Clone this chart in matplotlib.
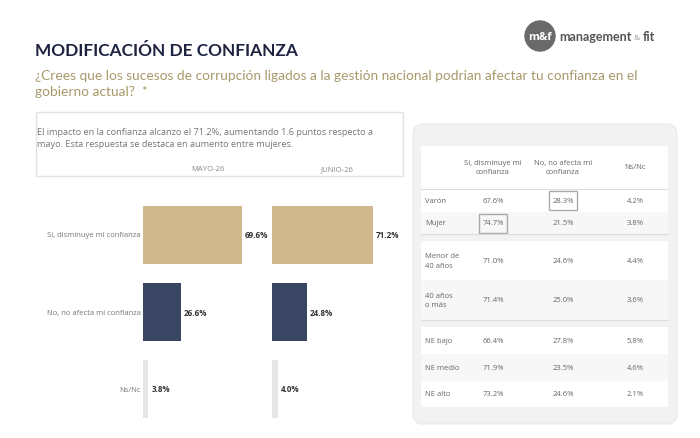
import matplotlib
matplotlib.use("Agg")
import matplotlib.pyplot as plt
from matplotlib.patches import Rectangle, FancyBboxPatch, Circle

plt.rcParams['font.family'] = ['Open Sans', 'DejaVu Sans']

# datos
categorias = ["Si, disminuye mi confianza", "No, no afecta mi confianza", "Ns/Nc"]
mayo_26 = [69.6, 26.6, 3.8]
junio_26 = [71.2, 24.8, 4.0]
periodos = ["MAYO-26", "JUNIO-26"]

cols_tabla = ["Si, disminuye mi\nconfianza", "No, no afecta mi\nconfianza", "Ns/Nc"]
filas_tabla = ["Varón", "Mujer", "Menor de\n40 años", "40 años\no más", "NE bajo", "NE medio", "NE alto"]
si_tabla = [67.6, 74.7, 71.0, 71.4, 66.4, 71.9, 73.2]
no_tabla = [28.3, 21.5, 24.6, 25.0, 27.8, 23.5, 24.6]
nsnc_tabla = [4.2, 3.8, 4.4, 3.6, 5.8, 4.6, 2.1]
destacados = [(0, 1), (1, 0)]  # (fila, columna) con recuadro

colores_barras = ["#D2B88F", "#3A4563", "#E6E6E6"]
W, H = 700, 439


def rect_px(x, y, w, h):
    return [x / W, 1 - (y + h) / H, w / W, h / H]


fig = plt.figure(figsize=(7, 4.39), dpi=100)
fig.patch.set_facecolor("white")

# capa de fondo en pixeles
bg = fig.add_axes([0, 0, 1, 1])
bg.set_xlim(0, W)
bg.set_ylim(H, 0)
bg.axis("off")

bg.text(35, 51, "MODIFICACIÓN DE CONFIANZA", fontsize=12.4, fontweight="bold",
        color="#1E2340", va="center", family=["Lato", "DejaVu Sans"])
bg.text(35, 84, "¿Crees que los sucesos de corrupción ligados a la gestión nacional podrian afectar tu confianza en el\n"
        "gobierno actual?  *", fontsize=9.9, color="#A8996B", va="center", linespacing=1.3,
        family=["Lato", "DejaVu Sans"])

# logo
bg.add_patch(Circle((540, 37), 15, color="#6A6A6A"))
bg.text(540, 37, "m&f", color="white", fontsize=8, ha="center", va="center", fontweight="bold")
bg.text(559, 37, "management", color="#555555", fontsize=9, va="center", fontweight="bold",
        family=["Lato", "DejaVu Sans"])
bg.text(634, 39, "&", color="#999999", fontsize=6, va="center")
bg.text(643, 37, "fit", color="#555555", fontsize=9, va="center", fontweight="bold",
        family=["Lato", "DejaVu Sans"])

# caja de texto
bg.add_patch(Rectangle((36, 113), 367, 64, facecolor="white", edgecolor="#E3E3E3", lw=1))
bg.text(37, 138.5, "El impacto en la confianza alcanzo el 71.2%, aumentando 1.6 puntos respecto a\n"
        "mayo. Esta respuesta se destaca en aumento entre mujeres.", fontsize=6.6,
        color="#777777", va="center", linespacing=1.5)

# barras
for i, (periodo, valores) in enumerate(zip(periodos, [mayo_26, junio_26])):
    x0 = [143, 272][i]
    ax = fig.add_axes(rect_px(x0, 197.5, 142, 231))
    ax.barh(range(len(categorias)), valores, height=0.75, color=colores_barras)
    ax.set_xlim(0, 100)
    ax.set_ylim(2.5, -0.5)
    ax.axis("off")
    for j, v in enumerate(valores):
        ax.text(v + 2, j, f"{v:.1f}%", fontsize=5.8, fontweight="bold",
                color="#333333", va="center")
    ax.text(46, -0.86, periodo, fontsize=5.5, color="#888888",
            ha="center", va="center")
    if i == 0:
        for j, c in enumerate(categorias):
            ax.text(-1.5, j, c, fontsize=5.5, color="#777777", ha="right", va="center")

# tabla
bg.add_patch(FancyBboxPatch((415, 127), 260, 296, boxstyle="round,pad=2,rounding_size=10",
                            facecolor="#F2F2F2", edgecolor="#EAEAEA", lw=0.8))
tx0, tx1 = 421, 668
bg.add_patch(Rectangle((tx0, 147), tx1 - tx0, 43, facecolor="white", edgecolor="none"))
col_x = [493, 563, 635]
for cx, c in zip(col_x, cols_tabla):
    bg.text(cx, 168, c, fontsize=5.5, color="#666666", ha="center", va="center", linespacing=1.5)

filas_y = [(190, 213), (213, 235), (242, 281), (281, 321), (328, 355), (355, 382), (382, 408)]
sombra = [False, True, False, True, False, True, False]
for k, (y0, y1) in enumerate(filas_y):
    bg.add_patch(Rectangle((tx0, y0), tx1 - tx0, y1 - y0,
                           facecolor="#F7F7F7" if sombra[k] else "white", edgecolor="none"))
    yc = (y0 + y1) / 2
    bg.text(425, yc, filas_tabla[k], fontsize=5.5, color="#666666", va="center", linespacing=1.5)
    for m, serie in enumerate([si_tabla, no_tabla, nsnc_tabla]):
        bg.text(col_x[m], yc, f"{serie[k]:.1f}%", fontsize=5.5, color="#666666",
                ha="center", va="center")
for yl in [190, 235, 321]:
    bg.plot([tx0, tx1], [yl, yl], color="#DDDDDD", lw=0.8)

for (f, c) in destacados:
    y0, y1 = filas_y[f]
    yc = (y0 + y1) / 2
    bg.add_patch(Rectangle((col_x[c] - 14, yc - 9.5), 28, 19, facecolor="none",
                           edgecolor="#AAAAAA", lw=1))

fig.savefig("out.png", dpi=100, facecolor="white")
